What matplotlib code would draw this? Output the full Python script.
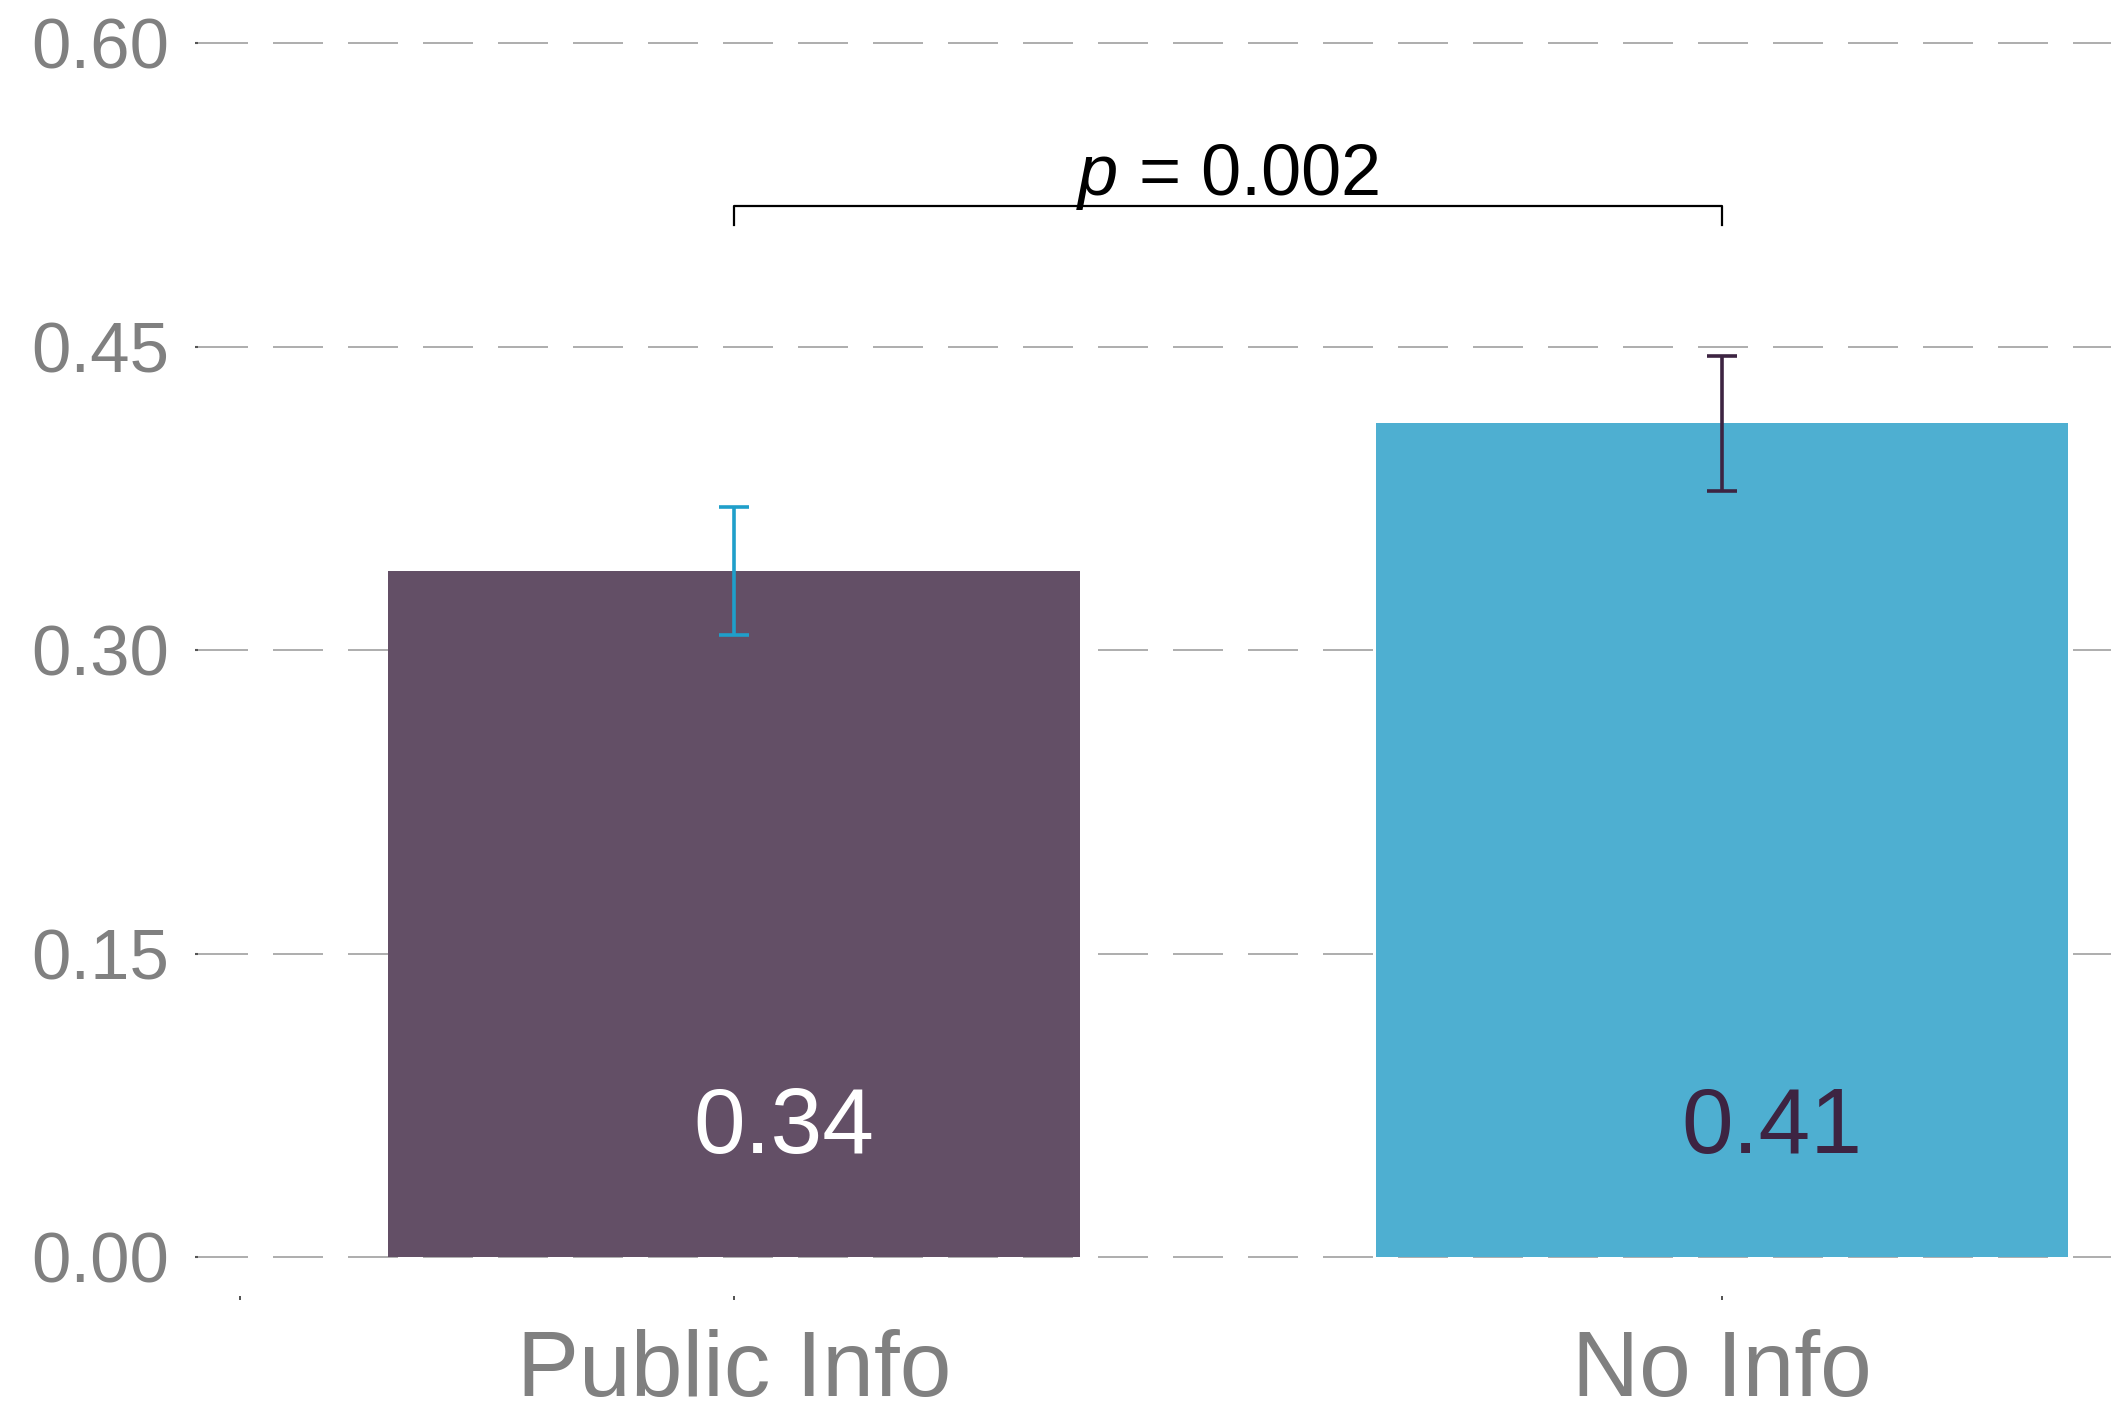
import matplotlib
matplotlib.use("Agg")
from matplotlib import pyplot as plt
import numpy as np

# data
groups = ["Public Info", "No Info"]
means = [0.339, 0.412]
errors = [0.0315, 0.0335]
p_value = 0.002
yticks = [0.00, 0.15, 0.30, 0.45, 0.60]

bar_colors = ["#634f66", "#4eafd1"]
err_colors = ["#1f9fca", "#3d2442"]
label_colors = ["#ffffff", "#3d2442"]

plt.rcParams["font.family"] = ["Liberation Sans", "DejaVu Sans"]
plt.rcParams["mathtext.fontset"] = "custom"
plt.rcParams["mathtext.it"] = "Liberation Sans:italic"
plt.rcParams["mathtext.rm"] = "Liberation Sans"
plt.rcParams["lines.scale_dashes"] = False

fig = plt.figure(figsize=(21.11, 14.08), dpi=100)
ax = fig.add_axes([0.0938, 0.0795, 0.9062, 0.9205])

x = np.arange(len(groups))
ax.bar(x, means, width=0.7, color=bar_colors, zorder=2)
for i in range(len(groups)):
    ax.errorbar(x[i], means[i], yerr=errors[i], color=err_colors[i],
                elinewidth=2.6, capsize=11, capthick=2.6, zorder=3)
    ax.text(x[i] + 0.05, 0.0635, f"{means[i]:.2f}", color=label_colors[i],
            fontsize=67, ha="center", va="center", zorder=4)

# significance bracket
ax.plot([x[0], x[0], x[1], x[1]], [0.510, 0.5195, 0.5195, 0.510],
        color="black", lw=1.6, zorder=3)
ax.text((x[0] + x[1]) / 2, 0.525, f"$p$ = {p_value:.3f}", fontsize=52,
        ha="center", va="baseline", color="black")

ax.set_xlim(-0.5425, 1.3937)
ax.set_ylim(-0.0193, 0.6213)
ax.set_yticks(yticks, [f"{t:.2f}" for t in yticks])
ax.set_xticks([-0.5, 0, 1], ["", groups[0], groups[1]])

ax.yaxis.grid(True, color="#a0a0a0", lw=1.2, dashes=(36, 18))
ax.set_axisbelow(True)
for s in ax.spines.values():
    s.set_visible(False)

ax.tick_params(axis="y", length=2, width=1.5, color="#555555",
               labelsize=51, labelcolor="#808080", pad=19)
ax.tick_params(axis="x", length=3, width=1.2, color="#333333",
               labelsize=67, labelcolor="#808080", pad=21)

fig.savefig("out.png", dpi=100)
